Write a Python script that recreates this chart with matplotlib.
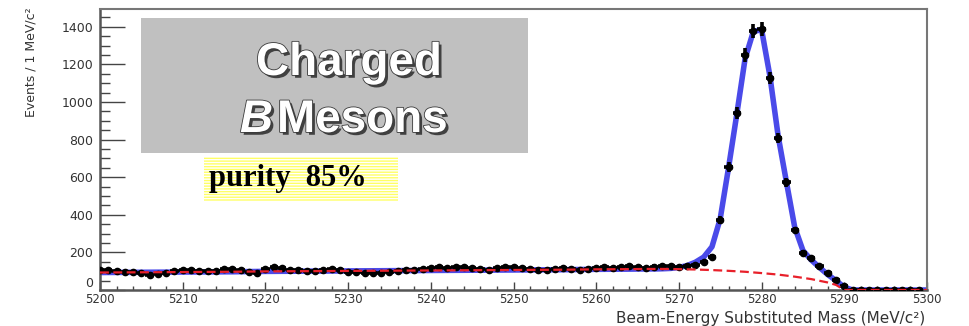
import matplotlib
matplotlib.use("Agg")
import matplotlib.pyplot as plt
import matplotlib.patheffects as pe
from matplotlib.patches import Rectangle
from matplotlib.ticker import MultipleLocator

import numpy as np

W, H = 969, 326

# Mbc histogram, 1 MeV bins (bin centres)
mass = list(range(5200, 5300))
events = [
    104, 108, 101, 97, 94, 88, 82, 85, 92, 99,
    104, 107, 103, 99, 102, 110, 114, 106, 96, 90,
    112, 122, 117, 108, 104, 99, 103, 108, 111, 104,
    98, 95, 92, 88, 90, 96, 101, 105, 108, 113,
    118, 121, 116, 120, 124, 119, 112, 108, 116, 121,
    124, 118, 110, 106, 109, 113, 116, 112, 108, 111,
    117, 121, 119, 124, 127, 122, 118, 125, 129, 126,
    122, 128, 132, 150, 177, 372, 654, 941, 1250, 1380,
    1390, 1128, 808, 574, 319, 197, 170, 128, 88, 55,
    20, 2, 0, 1, 0, 0, 1, 0, 0, 0,
]

# ARGUS-like background from the fit
bkg_mass = [5200, 5204, 5208, 5212, 5216, 5220, 5224, 5228, 5232, 5236,
            5240, 5244, 5248, 5252, 5256, 5260, 5264, 5266, 5268, 5270,
            5272, 5274, 5276, 5278, 5280, 5282, 5284, 5286, 5288, 5289,
            5290, 5300]
bkg_fit = [93, 94, 95, 96, 97, 99, 100, 101, 102, 103,
           104, 105, 106, 107, 108, 110, 111, 112, 112, 111,
           109, 106, 102, 97, 90, 82, 71, 58, 40, 27,
           0, 0]

# total fit (background + signal) around the peak
fit_mass = list(range(5266, 5293))
fit_total = [112, 112, 113, 115, 120, 130, 148, 175, 230, 380,
             650, 935, 1230, 1375, 1385, 1140, 820, 575, 335, 210,
             160, 120, 82, 50, 15, 0, 0]

title_lines = ["Charged", "B", "Mesons"]
purity_text = "purity  85%"


def fx(x):
    return x / W


def fy(y):
    return 1 - y / H


def main():
    fig = plt.figure(figsize=(W / 100, H / 100), dpi=100)
    ax = fig.add_axes([fx(100), fy(290), (927 - 100) / W, (290 - 9) / H])

    blue_x = [m for m in bkg_mass if m < fit_mass[0]] + fit_mass
    blue_y = [v for m, v in zip(bkg_mass, bkg_fit) if m < fit_mass[0]] + fit_total
    blue_x += [5300]
    blue_y += [0]
    ax.plot(blue_x, blue_y, color="#2a2ae6", lw=4, alpha=0.85, zorder=2)

    ev = np.array(events, dtype=float)
    ax.errorbar(mass, ev, xerr=0.5, yerr=np.sqrt(ev), fmt="o", ms=4.5,
                color="black", ecolor="black", elinewidth=2.6, capsize=0,
                zorder=3)

    ax.plot(bkg_mass, bkg_fit, color="#e8202a", lw=1.6, ls=(0, (4, 2)),
            zorder=4)

    ax.set_xlim(5200, 5300)
    ax.set_ylim(0, 1495)
    ax.xaxis.set_major_locator(MultipleLocator(10))
    ax.xaxis.set_minor_locator(MultipleLocator(2))
    ax.yaxis.set_major_locator(MultipleLocator(200))
    ax.yaxis.set_minor_locator(MultipleLocator(50))
    ax.tick_params(axis="x", which="major", direction="in", length=6,
                   width=1, color="#444", pad=2.5, labelsize=8.5,
                   labelcolor="#333")
    ax.tick_params(axis="x", which="minor", direction="in", length=3,
                   width=1, color="#444")
    ax.tick_params(axis="y", which="major", direction="in", length=18,
                   width=1, color="#444", pad=5, labelsize=9,
                   labelcolor="#333")
    ax.tick_params(axis="y", which="minor", direction="in", length=7.5,
                   width=1, color="#444")
    for side in ["left", "bottom"]:
        ax.spines[side].set_color("#555")
        ax.spines[side].set_linewidth(1.8)
    for side in ["top", "right"]:
        ax.spines[side].set_color("#777")
        ax.spines[side].set_linewidth(1.5)

    fig.text(fx(925), fy(326), "Beam-Energy Substituted Mass (MeV/c²)",
             ha="right", va="bottom", fontsize=11, color="#333")
    fig.text(fx(31), fy(7), "Events / 1 MeV/c²", rotation=90,
             ha="center", va="top", fontsize=9, color="#333")

    # title box
    fig.add_artist(Rectangle((fx(141), fy(153)), (528 - 141) / W,
                             (153 - 18) / H, transform=fig.transFigure,
                             facecolor="#c0c0c0", edgecolor="none",
                             zorder=5))
    effects = [pe.SimplePatchShadow(offset=(2, -2), shadow_rgbFace="#3a3a3a",
                                    alpha=0.95),
               pe.Stroke(linewidth=1.2, foreground="#3a3a3a"),
               pe.Normal()]
    title_font = dict(family="Liberation Sans", fontsize=33, weight="bold",
                      color="white", path_effects=effects, zorder=6)
    fig.text(fx(349), fy(75), title_lines[0], ha="center", va="baseline",
             **title_font)
    fig.text(fx(240), fy(132), title_lines[1], ha="left", va="baseline",
             style="italic", **title_font)
    fig.text(fx(277), fy(132), title_lines[2], ha="left", va="baseline",
             **title_font)

    # purity label on a striped yellow patch
    plt.rcParams["hatch.color"] = "white"
    plt.rcParams["hatch.linewidth"] = 1.0
    fig.add_artist(Rectangle((fx(204), fy(202)), (398 - 204) / W,
                             (202 - 157) / H, transform=fig.transFigure,
                             facecolor="#ffff66", edgecolor="white", lw=0,
                             hatch="------", zorder=5))
    fig.text(fx(209), fy(186), purity_text, ha="left", va="baseline",
             family="Liberation Serif", weight="bold", fontsize=22,
             color="black", zorder=6)

    # lift the "0" so it clears the first mass label
    fig.canvas.draw()
    for tick in ax.yaxis.get_major_ticks():
        if tick.get_loc() == 0:
            tick.label1.set_verticalalignment("bottom")

    fig.savefig("out.png", dpi=100)
    plt.close(fig)


if __name__ == "__main__":
    main()
